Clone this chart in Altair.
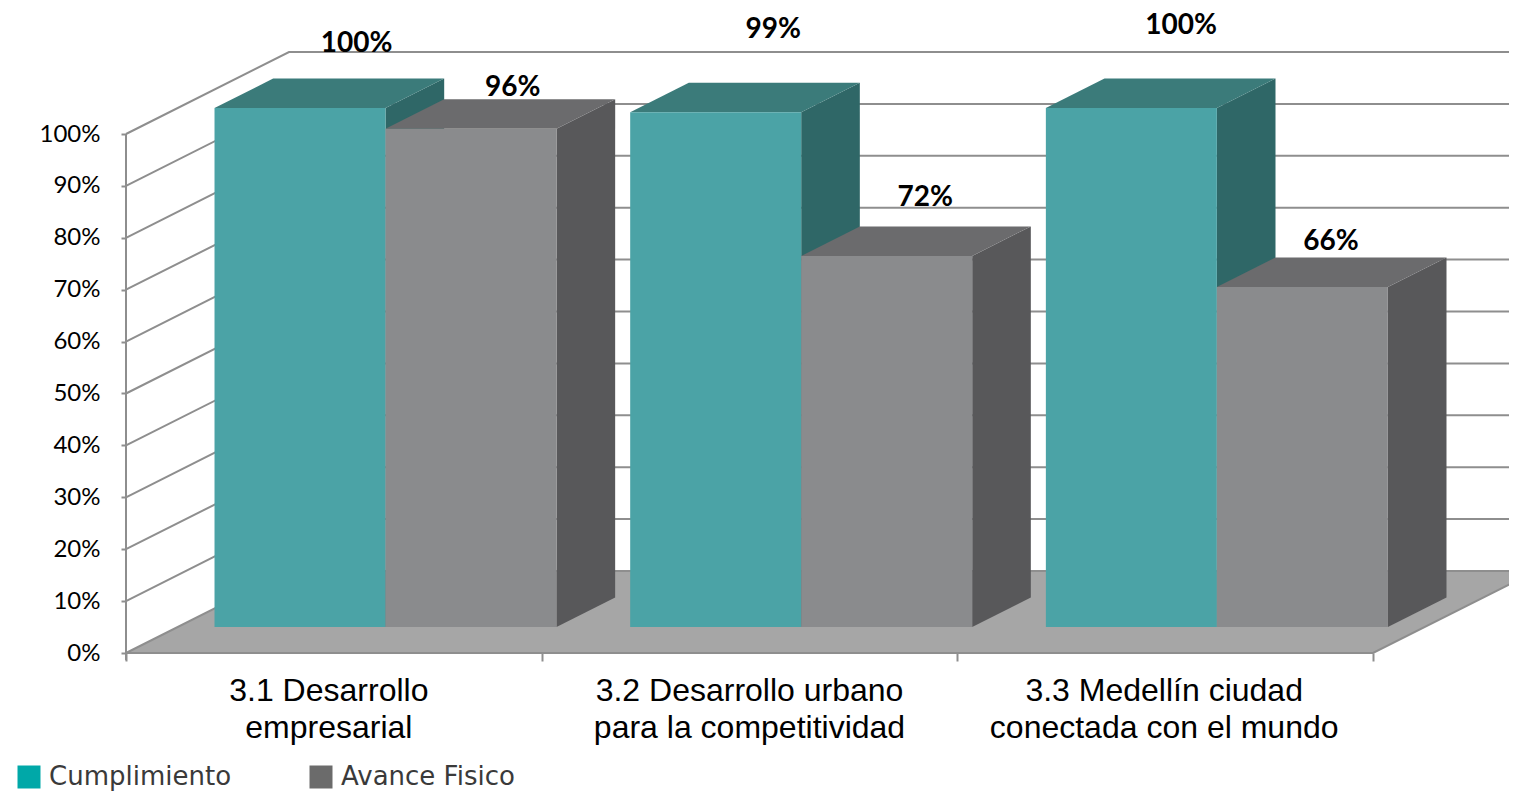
import altair as alt
import pandas as pd

categories = ["3.1 Desarrollo\nempresarial", "3.2 Desarrollo urbano\npara la competitividad", "3.3 Medellín ciudad\nconectada con el mundo"]
series = ["Cumplimiento", "Avance Fisico"]
cumplimiento = [100, 99.2, 100]
avance = [96, 71.5, 65.5]
labels_cumplimiento = ["100%", "99%", "100%"]
labels_avance = ["96%", "72%", "66%"]
levels = list(range(0, 101, 10))

W, H = 1501, 785
PX_CAT, PX_PCT = 415.67, 5.19
DX, DY = 163 / PX_CAT, 82 / PX_PCT
D0, D1 = 26 / 82, 55.5 / 82
BAR = 171 / PX_CAT
GRID = "#8e8e8e"

xs = alt.Scale(domain=[(8 - 126) / PX_CAT, (8 + W - 126) / PX_CAT], nice=False, zero=False)
ys = alt.Scale(domain=[(653 - 8 - H) / PX_PCT, (653 - 8) / PX_PCT], nice=False, zero=False)

AX_X = alt.Axis(values=[0, 1, 2, 3], labels=False, domain=False, grid=False, ticks=True, tickSize=8,
                tickColor=GRID, tickWidth=2, offset=-(8 + H - 653))
AX_Y = alt.Axis(values=levels, labelExpr="datum.value + '%'", domain=False, grid=False, tickSize=5,
                tickColor=GRID, tickWidth=2, labelFont="Lato", labelFontSize=24, labelColor="#000000",
                labelPadding=21, offset=-(126 - 8))


def X(f="x"):
    return alt.X(f"{f}:Q", scale=xs, axis=AX_X, title=None)


def Y(f="y"):
    return alt.Y(f"{f}:Q", scale=ys, axis=AX_Y, title=None)


def px(c, d=0.0):
    return c + DX * d


def py(v, d=0.0):
    return v + DY * d


def poly_line(rows, color=GRID, width=2):
    return alt.Chart(pd.DataFrame(rows)).mark_line(color=color, strokeWidth=width, clip=True).encode(
        x=X(), y=Y(), detail="k:N", order="o:Q")


layers = []

# carrier of the legend, hidden behind the bars
carrier = pd.DataFrame({"x": [px(0.5, D0) - BAR / 2, px(0.5, D0) + BAR / 2], "y": [50, 50], "serie": series})
layers.append(alt.Chart(carrier).mark_square(size=100, opacity=1).encode(
    x=X(), y=Y(),
    color=alt.Color("serie:N", sort=series, title=None,
                    scale=alt.Scale(domain=series, range=["#00a8a8", "#6b6b6b"]),
                    legend=alt.Legend(orient="none", legendX=8, legendY=756, direction="horizontal",
                                      symbolType="square", symbolSize=529, symbolStrokeWidth=0, symbolOpacity=1,
                                      labelFont="DejaVu Sans", labelFontSize=26, labelColor="#3a3a3a",
                                      labelLimit=400, labelOffset=7, columnPadding=76, padding=0)),
))

# floor
floor = pd.DataFrame({"y": [py(0, 0), py(0, 1)], "x": [px(0, 0), px(0, 1)], "x2": [px(3, 0), px(3, 1)]})
layers.append(alt.Chart(floor).mark_area(orient="horizontal", color="#a6a6a6", clip=True).encode(
    y=Y(), x=X(), x2="x2:Q"))

# walls: grid lines
rows = []
for v in levels:
    rows += [{"k": f"s{v}", "o": 0, "x": px(0), "y": py(v)},
             {"k": f"s{v}", "o": 1, "x": px(0, 1), "y": py(v, 1)},
             {"k": f"s{v}", "o": 2, "x": px(3, 1), "y": py(v, 1)}]
layers.append(poly_line(rows))

# floor front edges and y axis line
layers.append(poly_line([{"k": "f", "o": 0, "x": px(0), "y": 0}, {"k": "f", "o": 1, "x": px(3), "y": 0},
                         {"k": "f", "o": 2, "x": px(3, 1), "y": py(0, 1)},
                         {"k": "a", "o": 0, "x": 0, "y": 100}, {"k": "a", "o": 1, "x": 0, "y": -1.4}]))

# bars, back to front
styles = [(cumplimiento, labels_cumplimiento, -1, "#4ba3a6", "#2f6767", "#3b7b7a", [(-2, -35), (-1, -53), (-9, -53)]),
          (avance, labels_avance, 0, "#8a8b8d", "#58585a", "#6b6b6d", [(-17, -11), (-20, -28), (-30, -16)])]
for values, texts, left, front, side, top, nudges in styles:
    side_rows, top_rows, front_rows = [], [], []
    for i, v in enumerate(values):
        x0 = i + 0.5 + left * BAR
        x1 = x0 + BAR
        for o, d in enumerate([D0, D1]):
            side_rows.append({"k": i, "x": px(x1, d), "y": py(v, d), "y2": py(0, d)})
            top_rows.append({"k": i, "y": py(v, d), "x": px(x0, d), "x2": px(x1, d)})
        front_rows.append({"x": px(x0, D0), "x2": px(x1, D0), "y": py(v, D0), "y2": py(0, D0)})
    layers.append(alt.Chart(pd.DataFrame(side_rows)).mark_area(orient="vertical", color=side).encode(
        x=X(), y=Y(), y2="y2:Q", detail="k:N"))
    layers.append(alt.Chart(pd.DataFrame(top_rows)).mark_area(orient="horizontal", color=top).encode(
        y=Y(), x=X(), x2="x2:Q", detail="k:N"))
    layers.append(alt.Chart(pd.DataFrame(front_rows)).mark_rect(color=front).encode(
        x=X(), x2="x2:Q", y=Y(), y2="y2:Q"))
    for i, (v, t, (dx, dy)) in enumerate(zip(values, texts, nudges)):
        d = pd.DataFrame({"x": [px(i + 0.5 + (left + 0.5) * BAR, D1)], "y": [py(v, D1)], "t": [t]})
        layers.append(alt.Chart(d).mark_text(font="Lato", fontWeight="bold", fontSize=28, color="#000000",
                                             dx=dx, dy=dy, baseline="middle", align="center").encode(
            x=X(), y=Y(), text="t:N"))

# category labels
for i, (c, shift) in enumerate(zip(categories, [-5, 0, -1])):
    d = pd.DataFrame({"x": [i + 0.5], "y": [0], "t": [c]})
    layers.append(alt.Chart(d).mark_text(font="Liberation Sans", fontSize=32, lineBreak="\n", lineHeight=37,
                                         color="#000000", dx=shift, dy=38, baseline="middle", align="center").encode(
        x=X(), y=Y(), text="t:N"))

chart = alt.layer(*layers).properties(
    width=W, height=H, padding=0, autosize=alt.AutoSizeParams(type="none")
).configure_view(stroke=None)

chart.save("out.html", embed_options={"renderer": "svg", "actions": False})
